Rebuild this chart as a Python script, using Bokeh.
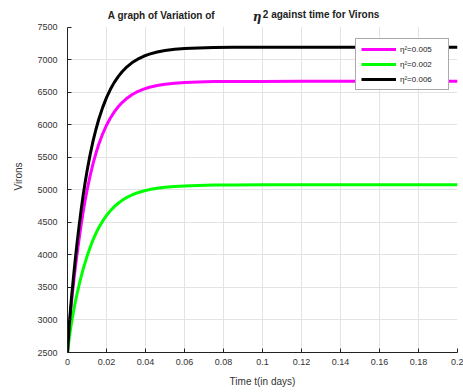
from bokeh.plotting import figure
from bokeh.models import (Label, Legend, LegendItem, FixedTicker, NumeralTickFormatter, Range1d)
from bokeh.embed import file_html
from bokeh.resources import INLINE

# ---- data ----
time_days = [0, 0.001, 0.002, 0.003, 0.004, 0.005, 0.006, 0.007, 0.008, 0.009, 0.010,
             0.0115, 0.013, 0.0145, 0.016, 0.018, 0.020, 0.022, 0.024, 0.026, 0.028,
             0.030, 0.033, 0.036, 0.039, 0.042, 0.046, 0.050, 0.055, 0.060, 0.067,
             0.075, 0.085, 0.1, 0.12, 0.14, 0.16, 0.18, 0.2]
virons_eta_0005 = [2500, 2930, 3260, 3540, 3800, 4035, 4254, 4464, 4655, 4831, 4990,
                   5204, 5391, 5554, 5696, 5858, 5993, 6105, 6199, 6277, 6342,
                   6396, 6461, 6511, 6548, 6577, 6605, 6624, 6640, 6650, 6659,
                   6664, 6666, 6667, 6668, 6668, 6668, 6668, 6668]
virons_eta_0002 = [2500, 2750, 2950, 3120, 3275, 3415, 3545, 3665, 3776, 3878, 3976,
                   4107, 4224, 4326, 4416, 4519, 4606, 4680, 4742, 4794, 4839,
                   4876, 4921, 4956, 4983, 5004, 5025, 5040, 5053, 5061, 5068,
                   5073, 5075, 5077, 5077, 5077, 5077, 5077, 5077]
virons_eta_0006 = [2500, 2960, 3330, 3640, 3935, 4208, 4458, 4694, 4909, 5105, 5285,
                   5526, 5736, 5920, 6081, 6264, 6417, 6545, 6652, 6741, 6815,
                   6878, 6952, 7009, 7053, 7086, 7118, 7141, 7160, 7172, 7182,
                   7188, 7191, 7192, 7193, 7193, 7193, 7193, 7193]
series_labels = ["\u03b7\u00b2=0.005", "\u03b7\u00b2=0.002", "\u03b7\u00b2=0.006"]
series_colors = ["#ff00ff", "#00ff00", "#000000"]
x_ticks = [0, 0.02, 0.04, 0.06, 0.08, 0.1, 0.12, 0.14, 0.16, 0.18, 0.2]
y_ticks = [2500, 3000, 3500, 4000, 4500, 5000, 5500, 6000, 6500, 7000, 7500]
title_left = "A graph of Variation of"
title_eta = "\u03b7"
title_right = "2 against time for Virons"

FONT = "Liberation Sans"

# layout geometry (pixels)
FRAME_LEFT, FRAME_RIGHT, FRAME_BOTTOM, AXIS_TOP = 66.7, 456.7, 352.0, 26.7
Y_PER_PX = (y_ticks[-1] - y_ticks[0]) / (FRAME_BOTTOM - AXIS_TOP)
X_PER_PX = (x_ticks[-1] - x_ticks[0]) / (FRAME_RIGHT - FRAME_LEFT)
y_top = y_ticks[0] + FRAME_BOTTOM * Y_PER_PX   # frame reaches canvas top, room for the title


def px2x(px):
    return x_ticks[0] + (px - FRAME_LEFT) * X_PER_PX


def py2y(py):
    return y_ticks[0] + (FRAME_BOTTOM - py) * Y_PER_PX


p = figure(width=463, height=392, output_backend="svg", toolbar_location=None, title=None,
           x_range=Range1d(x_ticks[0], x_ticks[-1]), y_range=Range1d(y_ticks[0], y_top),
           min_border_left=67, min_border_right=6, min_border_top=0, min_border_bottom=40)
p.outline_line_color = None
p.background_fill_color = "white"
p.border_fill_color = "white"

# vertical grid lines limited to the data area
p.xgrid.visible = False
inner_x = x_ticks[1:-1]
p.segment(x0=inner_x, y0=[y_ticks[0]] * len(inner_x), x1=inner_x, y1=[y_ticks[-1]] * len(inner_x),
          line_color="#e3e3e3", line_width=1)
p.ygrid.ticker = FixedTicker(ticks=y_ticks[1:-1])
p.ygrid.grid_line_color = "#e3e3e3"
p.ygrid.grid_line_width = 1

renderers = []
for ys, c in zip([virons_eta_0005, virons_eta_0002, virons_eta_0006], series_colors):
    r = p.line(time_days, ys, line_color=c, line_width=3, line_join="round")
    renderers.append(r)

# axes
p.xaxis.ticker = FixedTicker(ticks=x_ticks)
p.yaxis.ticker = FixedTicker(ticks=y_ticks)
p.yaxis.bounds = (y_ticks[0], y_ticks[-1])
p.xaxis.formatter = NumeralTickFormatter(format="0.[00]")
for ax in (p.xaxis[0], p.yaxis[0]):
    ax.major_tick_in = 4
    ax.major_tick_out = 0
    ax.minor_tick_line_color = None
    ax.axis_line_color = "#222222"
    ax.major_tick_line_color = "#222222"
    ax.major_label_text_font = FONT
    ax.major_label_text_font_size = "9px"
    ax.major_label_text_color = "#333333"
    ax.axis_label_text_font = FONT
    ax.axis_label_text_font_size = "10px"
    ax.axis_label_text_font_style = "normal"
    ax.axis_label_text_color = "#333333"
p.xaxis.axis_label = "Time t(in days)"
p.yaxis.axis_label = "Virons"
p.xaxis.major_label_standoff = 6
p.yaxis.major_label_standoff = 10
p.xaxis.axis_label_standoff = 8
p.yaxis.axis_label_standoff = 10

# legend
items = [LegendItem(label=l, renderers=[r]) for l, r in zip(series_labels, renderers)]
legend = Legend(items=items, location=(288, 262),
                label_text_font=FONT, label_text_font_size="8px", label_text_color="#222222",
                glyph_width=35, glyph_height=10, label_height=10, label_width=43,
                label_standoff=4, padding=5, spacing=5, margin=0,
                border_line_color="#555555", border_line_width=1,
                background_fill_color="white", background_fill_alpha=1.0)
p.add_layout(legend)

# title pieces
p.add_layout(Label(x=px2x(107), y=py2y(15), text=title_left,
                   text_font=FONT, text_font_size="10px", text_font_style="bold",
                   text_color="#222222", text_baseline="middle", text_align="left"))
p.add_layout(Label(x=px2x(252), y=py2y(16.5), text=title_eta,
                   text_font="DejaVu Serif", text_font_size="12px", text_font_style="bold italic",
                   text_color="#222222", text_baseline="middle", text_align="left"))
p.add_layout(Label(x=px2x(262), y=py2y(14), text=title_right,
                   text_font=FONT, text_font_size="10px", text_font_style="bold",
                   text_color="#222222", text_baseline="middle", text_align="left"))

open("out.html", "w").write(file_html(p, INLINE))
